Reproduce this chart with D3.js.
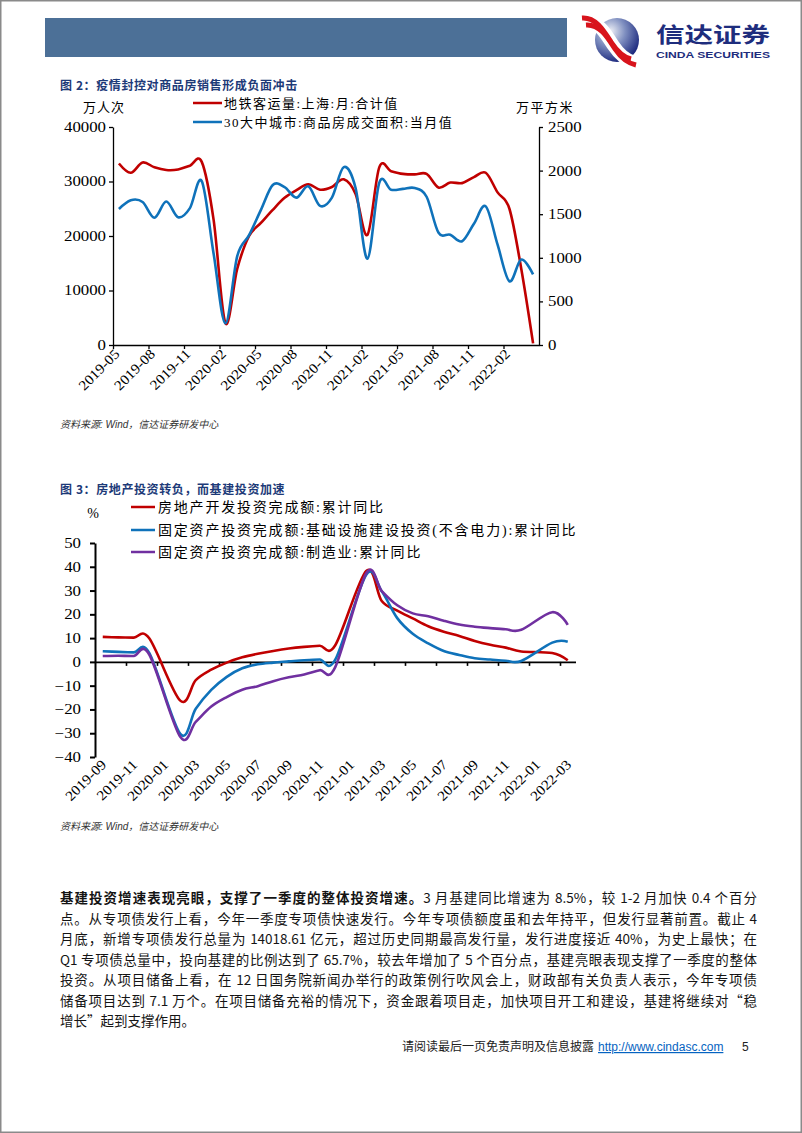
<!DOCTYPE html>
<html>
<head>
<meta charset="utf-8">
<script src="https://cdn.jsdelivr.net/npm/d3@7"></script>
<style>
  body { margin: 0; background: #fff; }
  #page { position: relative; width: 802px; height: 1133px; overflow: hidden; }
  #page svg { position: absolute; left: 0; top: 0; }
  .para { position: absolute; left: 60px; top: 887px; width: 697px;
          font-family: "Noto Sans CJK SC", sans-serif; font-size: 13.5px; line-height: 20.5px; color: #141414; }
  .para div { text-align: justify; text-align-last: justify; }
  .para div.last { text-align-last: left; }
</style>
</head>
<body>
<div id="page"></div>
<script>
// ---- chart 1 data: 疫情封控对商品房销售形成负面冲击 ----
const months1 = ['2019-05','2019-06','2019-07','2019-08','2019-09','2019-10','2019-11','2019-12',
  '2020-01','2020-02','2020-03','2020-04','2020-05','2020-06','2020-07','2020-08','2020-09','2020-10','2020-11','2020-12',
  '2021-01','2021-02','2021-03','2021-04','2021-05','2021-06','2021-07','2021-08','2021-09','2021-10','2021-11','2021-12',
  '2022-01','2022-02','2022-03','2022-04'];
// 地铁客运量:上海:月:合计值 (万人次, left axis)
const metroShanghai = [33300, 31600, 33500, 32600, 32100, 32200, 32900, 33600,
  23000, 4000, 14000, 20000, 22400, 24800, 27000, 28400, 29500, 28500, 29000, 30400,
  27700, 20200, 32600, 31900, 31400, 31300, 31400, 28900, 29800, 29700, 30800, 31600,
  28000, 25000, 14000, 300];
// 30大中城市:商品房成交面积:当月值 (万平方米, right axis)
const saleArea30 = [1560, 1660, 1640, 1460, 1645, 1465, 1570, 1880,
  1050, 250, 1020, 1260, 1550, 1835, 1810, 1690, 1820, 1595, 1690, 2040,
  1800, 990, 1860, 1780, 1790, 1800, 1700, 1290, 1265, 1190, 1390, 1590,
  1150, 730, 980, 810];
const xTicks1 = ['2019-05','2019-08','2019-11','2020-02','2020-05','2020-08','2020-11',
  '2021-02','2021-05','2021-08','2021-11','2022-02'];
const leftTicks1 = [0, 10000, 20000, 30000, 40000];
const rightTicks1 = [0, 500, 1000, 1500, 2000, 2500];

// ---- chart 2 data: 房地产投资转负，而基建投资加速 (累计同比 %, 1月无数据) ----
const months2 = ['2019-09','2019-10','2019-11','2019-12',
  '2020-01','2020-02','2020-03','2020-04','2020-05','2020-06','2020-07','2020-08','2020-09','2020-10','2020-11','2020-12',
  '2021-01','2021-02','2021-03','2021-04','2021-05','2021-06','2021-07','2021-08','2021-09','2021-10','2021-11','2021-12',
  '2022-01','2022-02','2022-03'];
const realEstateInv = [10.5, 10.3, 10.2, 9.9,
  null, -16.3, -7.7, -3.3, -0.3, 1.9, 3.4, 4.6, 5.6, 6.3, 6.8, 7.0,
  null, 38.3, 25.6, 21.6, 18.3, 15.0, 12.7, 10.9, 8.8, 7.2, 6.0, 4.4,
  null, 3.7, 0.7];
const infraInv = [4.5, 4.2, 4.0, 3.8,
  null, -30.3, -19.7, -11.8, -6.3, -2.7, -1.0, -0.3, 0.2, 0.7, 1.0, 0.9,
  null, 36.6, 29.7, 18.4, 11.8, 7.8, 4.6, 2.9, 1.5, 1.0, 0.5, 0.4,
  null, 8.1, 8.5];
const manufInv = [2.5, 2.6, 2.5, 3.1,
  null, -31.5, -25.2, -18.8, -14.8, -11.7, -10.2, -8.1, -6.5, -5.3, -3.5, -2.2,
  null, 37.3, 29.8, 23.8, 20.4, 19.2, 17.3, 15.7, 14.8, 14.2, 13.7, 13.5,
  null, 20.9, 15.6];
const xTicks2 = ['2019-09','2019-11','2020-01','2020-03','2020-05','2020-07','2020-09','2020-11',
  '2021-01','2021-03','2021-05','2021-07','2021-09','2021-11','2022-01','2022-03'];
const yTicks2 = [-40, -30, -20, -10, 0, 10, 20, 30, 40, 50];

const bodyLines = [
  ['基建投资增速表现亮眼，支撑了一季度的整体投资增速。', '3 月基建同比增速为 8.5%，较 1-2 月加快 0.4 个百分'],
  ['', '点。从专项债发行上看，今年一季度专项债快速发行。今年专项债额度虽和去年持平，但发行显著前置。截止 4'],
  ['', '月底，新增专项债发行总量为 14018.61 亿元，超过历史同期最高发行量，发行进度接近 40%，为史上最快；在'],
  ['', 'Q1 专项债总量中，投向基建的比例达到了 65.7%，较去年增加了 5 个百分点，基建亮眼表现支撑了一季度的整体'],
  ['', '投资。从项目储备上看，在 12 日国务院新闻办举行的政策例行吹风会上，财政部有关负责人表示，今年专项债'],
  ['', '储备项目达到 7.1 万个。在项目储备充裕的情况下，资金跟着项目走，加快项目开工和建设，基建将继续对“稳'],
  ['', '增长”起到支撑作用。']
];

const RED = '#c00000', BLUE = '#0f72ba', PURPLE = '#7030a0', TITLE = '#1d3a78';
const SERIF = '"Liberation Serif","Noto Sans CJK SC",serif';
const CJK = '"Noto Sans CJK SC",sans-serif';

// widen glyphs horizontally, the source charts were pasted stretched
function stretch(sel, k) {
  sel.each(function () {
    const w = this.getComputedTextLength();
    d3.select(this).attr('textLength', w * k).attr('lengthAdjust', 'spacingAndGlyphs');
  });
}

function styleAxis(g, width) {
  g.selectAll('path,line').attr('stroke', '#000').attr('stroke-width', width);
  g.selectAll('text').attr('font-family', SERIF).attr('fill', '#000');
}

function draw() {
  const page = d3.select('#page');
  const svg = page.append('svg').attr('width', 802).attr('height', 1133);

  // page frame + header
  svg.append('rect').attr('x', 0.75).attr('y', 0.75).attr('width', 800.5).attr('height', 1131.5)
    .attr('fill', '#fff').attr('stroke', '#8a8a8a').attr('stroke-width', 1.5);
  svg.append('rect').attr('x', 45).attr('y', 18).attr('width', 522).attr('height', 39).attr('fill', '#4c7097');

  // logo
  const defs = svg.append('defs');
  const rg = defs.append('radialGradient').attr('id', 'ball').attr('cx', '35%').attr('cy', '30%').attr('r', '75%');
  rg.append('stop').attr('offset', '0%').attr('stop-color', '#eef0f6');
  rg.append('stop').attr('offset', '45%').attr('stop-color', '#7f8fc0');
  rg.append('stop').attr('offset', '100%').attr('stop-color', '#16237a');
  const logo = svg.append('g');
  logo.append('circle').attr('cx', 617).attr('cy', 40).attr('r', 22).attr('fill', 'url(#ball)');
  logo.append('path').attr('d', 'M584,21 C598,20 606,34 613,45 C619,54 625,60 634,62')
    .attr('fill', 'none').attr('stroke', '#fff').attr('stroke-width', 13);
  logo.append('path').attr('d', 'M582,18 C596,17 604,31 611,42 C617,51 623,57 631,59')
    .attr('fill', 'none').attr('stroke', '#d8141c').attr('stroke-width', 5);
  logo.append('path').attr('d', 'M586,25 C600,24 608,38 615,49 C621,58 627,63 636,65')
    .attr('fill', 'none').attr('stroke', '#d8141c').attr('stroke-width', 5);
  logo.append('text').attr('x', 656).attr('y', 42).attr('font-family', CJK).attr('font-weight', 700)
    .attr('font-size', 21).attr('fill', '#1e2d7d').text('信达证券')
    .attr('textLength', 114).attr('lengthAdjust', 'spacingAndGlyphs');
  logo.append('text').attr('x', 656).attr('y', 57.5).attr('font-family', '"Liberation Sans",sans-serif')
    .attr('font-weight', 700).attr('font-size', 9.5).attr('fill', '#1e2d7d').text('CINDA SECURITIES')
    .attr('textLength', 114).attr('lengthAdjust', 'spacingAndGlyphs');

  // ================= chart 1 =================
  svg.append('text').attr('x', 60).attr('y', 90).attr('font-family', CJK).attr('font-weight', 700)
    .attr('font-size', 12).attr('fill', TITLE).attr('letter-spacing', 0.6).text('图 2：疫情封控对商品房销售形成负面冲击');

  const x1 = d3.scaleLinear().domain([0, months1.length]).range([113, 539]);
  const yL = d3.scaleLinear().domain([0, 40000]).range([345, 127]);
  const yR = d3.scaleLinear().domain([0, 2500]).range([345, 127]);

  svg.append('text').attr('x', 104).attr('y', 112).attr('text-anchor', 'middle')
    .attr('font-family', SERIF).attr('font-size', 13).attr('letter-spacing', 1).text('万人次');
  svg.append('text').attr('x', 545).attr('y', 112).attr('text-anchor', 'middle')
    .attr('font-family', SERIF).attr('font-size', 13).attr('letter-spacing', 1.5).text('万平方米');

  const leg1 = [{ name: '地铁客运量:上海:月:合计值', color: RED, y: 103 },
                { name: '30大中城市:商品房成交面积:当月值', color: BLUE, y: 122 }];
  leg1.forEach(d => {
    svg.append('line').attr('x1', 193).attr('x2', 222).attr('y1', d.y).attr('y2', d.y)
      .attr('stroke', d.color).attr('stroke-width', 2.5);
    svg.append('text').attr('x', 224).attr('y', d.y + 4.8).attr('font-family', SERIF).attr('font-size', 13)
      .attr('letter-spacing', 1.5).text(d.name);
  });

  const axL = svg.append('g').attr('transform', 'translate(113,0)')
    .call(d3.axisLeft(yL).tickValues(leftTicks1).tickSize(4).tickSizeOuter(0).tickPadding(3).tickFormat(d3.format('d')));
  const axR = svg.append('g').attr('transform', 'translate(539,0)')
    .call(d3.axisRight(yR).tickValues(rightTicks1).tickSize(4).tickSizeOuter(0).tickPadding(5).tickFormat(d3.format('d')));
  const axB = svg.append('g').attr('transform', 'translate(0,345)')
    .call(d3.axisBottom(x1).tickValues(xTicks1.map(m => months1.indexOf(m)))
      .tickSize(4).tickSizeOuter(0).tickFormat(i => months1[i]));
  [axL, axR, axB].forEach(g => styleAxis(g, 1.3));
  axL.selectAll('text').attr('font-size', 14);
  axR.selectAll('text').attr('font-size', 14);
  axB.selectAll('text').attr('font-size', 14).attr('text-anchor', 'end')
    .attr('x', -2).attr('y', 7).attr('dy', '0.35em').attr('transform', 'rotate(-45)');
  stretch(axL.selectAll('text'), 1.2);
  stretch(axR.selectAll('text'), 1.2);
  stretch(axB.selectAll('text'), 1.1);

  const smooth = d3.curveCatmullRom.alpha(0);
  const lineL = d3.line().x((d, i) => x1(i + 0.5)).y(d => yL(d)).curve(smooth);
  const lineR = d3.line().x((d, i) => x1(i + 0.5)).y(d => yR(d)).curve(smooth);
  svg.append('path').attr('d', lineL(metroShanghai)).attr('fill', 'none').attr('stroke', RED).attr('stroke-width', 2.6);
  svg.append('path').attr('d', lineR(saleArea30)).attr('fill', 'none').attr('stroke', BLUE).attr('stroke-width', 2.6);

  svg.append('text').attr('x', 60).attr('y', 428).attr('font-family', '"Liberation Sans","Noto Sans CJK SC",sans-serif')
    .attr('font-style', 'italic').attr('font-size', 10).attr('fill', '#333').text('资料来源: Wind，信达证券研发中心');

  // ================= chart 2 =================
  svg.append('text').attr('x', 60).attr('y', 494).attr('font-family', CJK).attr('font-weight', 700)
    .attr('font-size', 12).attr('fill', TITLE).attr('letter-spacing', 0.6).text('图 3：房地产投资转负，而基建投资加速');

  const x2 = d3.scaleBand().domain(months2).range([95, 575.5]);
  const xi2 = d3.scaleLinear().domain([0, months2.length]).range([95, 575.5]);
  const y2 = d3.scaleLinear().domain([-40, 50]).range([757, 543]);

  svg.append('text').attr('x', 93).attr('y', 518).attr('text-anchor', 'middle')
    .attr('font-family', SERIF).attr('font-size', 14).text('%');

  const leg2 = [{ name: '房地产开发投资完成额:累计同比', color: RED, y: 507 },
                { name: '固定资产投资完成额:基础设施建设投资(不含电力):累计同比', color: BLUE, y: 530 },
                { name: '固定资产投资完成额:制造业:累计同比', color: PURPLE, y: 552 }];
  leg2.forEach(d => {
    svg.append('line').attr('x1', 131).attr('x2', 155).attr('y1', d.y).attr('y2', d.y)
      .attr('stroke', d.color).attr('stroke-width', 2.5);
    svg.append('text').attr('x', 158).attr('y', d.y + 5).attr('font-family', SERIF).attr('font-size', 14)
      .attr('letter-spacing', 1.8).text(d.name);
  });

  const axY2 = svg.append('g').attr('transform', 'translate(95,0)')
    .call(d3.axisLeft(y2).tickValues(yTicks2).tickSize(5).tickSizeOuter(0).tickPadding(9));
  styleAxis(axY2, 2);
  axY2.selectAll('text').attr('font-size', 14);
  stretch(axY2.selectAll('text'), 1.2);

  const axX2 = svg.append('g').attr('transform', `translate(0,${y2(0)})`)
    .call(d3.axisBottom(xi2).tickValues(xTicks2.slice(1).map(m => months2.indexOf(m)))
      .tickSize(4).tickSizeOuter(0).tickFormat(''));
  styleAxis(axX2, 1.6);

  const xl2 = svg.append('g').selectAll('text').data(xTicks2).join('text')
    .attr('transform', d => `translate(${x2(d) + x2.bandwidth() / 2 + 1},${762}) rotate(-45)`)
    .attr('text-anchor', 'end').attr('dy', '0.35em')
    .attr('font-family', SERIF).attr('font-size', 14).text(d => d);
  stretch(xl2, 1.1);

  const series2 = [{ v: realEstateInv, c: RED }, { v: infraInv, c: BLUE }, { v: manufInv, c: PURPLE }];
  const line2 = d3.line().x(d => x2(d.m) + x2.bandwidth() / 2).y(d => y2(d.v)).curve(smooth);
  series2.forEach(s => {
    const pts = months2.map((m, i) => ({ m, v: s.v[i] })).filter(d => d.v != null);
    svg.append('path').attr('d', line2(pts)).attr('fill', 'none').attr('stroke', s.c).attr('stroke-width', 2.6);
  });

  svg.append('text').attr('x', 60).attr('y', 830).attr('font-family', '"Liberation Sans","Noto Sans CJK SC",sans-serif')
    .attr('font-style', 'italic').attr('font-size', 10).attr('fill', '#333').text('资料来源: Wind，信达证券研发中心');

  // ================= body text =================
  const para = page.append('div').attr('class', 'para');
  bodyLines.forEach((ln, i) => {
    const row = para.append('div').classed('last', i === bodyLines.length - 1);
    if (ln[0]) row.append('b').text(ln[0]);
    row.append('span').text(ln[1]);
  });

  // ================= footer =================
  svg.append('text').attr('x', 402).attr('y', 1051).attr('font-family', CJK).attr('font-size', 12)
    .attr('fill', '#222').text('请阅读最后一页免责声明及信息披露');
  svg.append('text').attr('x', 598).attr('y', 1051).attr('font-family', '"Liberation Sans",sans-serif')
    .attr('font-size', 12).attr('fill', '#0563c1').attr('text-decoration', 'underline').text('http://www.cindasc.com');
  svg.append('text').attr('x', 742).attr('y', 1051).attr('font-family', '"Liberation Sans",sans-serif')
    .attr('font-size', 12).attr('fill', '#222').text('5');
}

document.fonts.ready.then(draw);
</script>
</body>
</html>
